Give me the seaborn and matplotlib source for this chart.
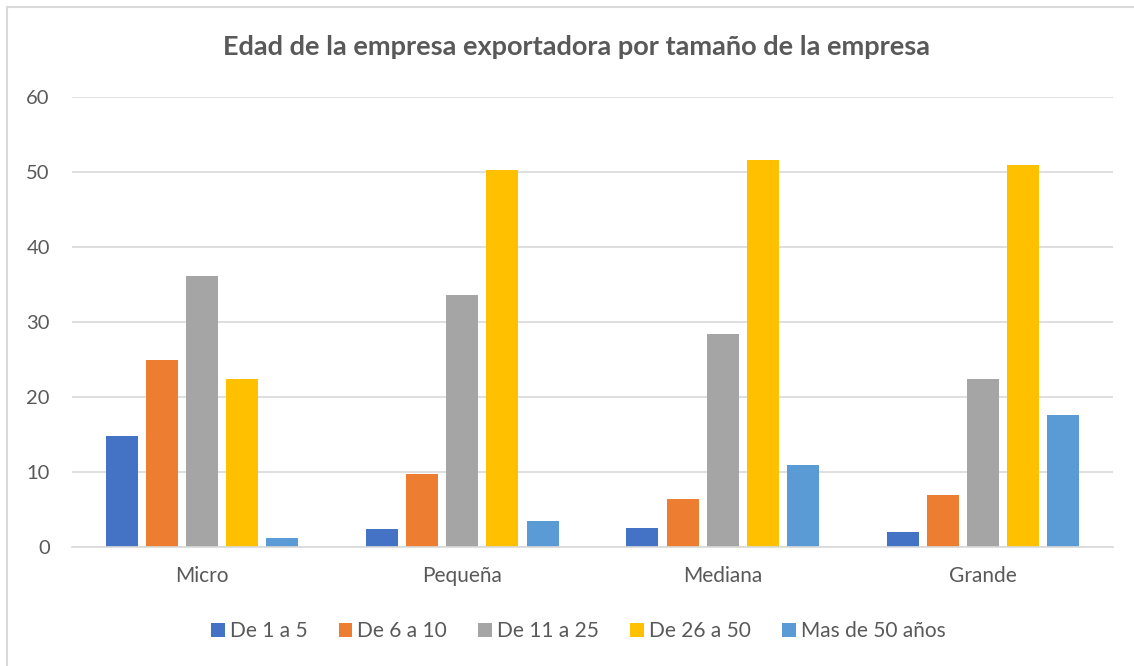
"""
Edad de la empresa exportadora por tamaño de la empresa - grouped bar chart
"""

import numpy as np
import pandas as pd
import matplotlib
matplotlib.use("Agg")
import matplotlib.pyplot as plt
from matplotlib.lines import Line2D
import seaborn as sns

# Data
tamanos = ["Micro", "Pequeña", "Mediana", "Grande"]
edades = ["De 1 a 5", "De 6 a 10", "De 11 a 25", "De 26 a 50", "Mas de 50 años"]

de_1_a_5 = [14.8, 2.4, 2.6, 2.0]
de_6_a_10 = [25.0, 9.8, 6.4, 6.9]
de_11_a_25 = [36.2, 33.6, 28.4, 22.4]
de_26_a_50 = [22.4, 50.3, 51.6, 50.9]
mas_de_50 = [1.2, 3.5, 10.9, 17.6]

colores = ["#4472C4", "#ED7D31", "#A5A5A5", "#FFC000", "#5B9BD5"]

sns.set_theme(style="white")
plt.rcParams["font.family"] = ["Lato", "DejaVu Sans"]

texto = "#595959"
rejilla = "#D9D9D9"

# Build long table
series = [de_1_a_5, de_6_a_10, de_11_a_25, de_26_a_50, mas_de_50]
rows = []
for edad, valores in zip(edades, series):
    for tam, v in zip(tamanos, valores):
        rows.append({"tamano": tam, "edad": edad, "valor": v})
df = pd.DataFrame(rows)

W, H = 1134, 666
fig = plt.figure(figsize=(W / 100, H / 100), dpi=100)
ax = fig.add_axes([72 / W, 1 - 547 / H, (1113 - 72) / W, (547 - 97) / H])

sns.barplot(
    data=df, x="tamano", y="valor", hue="edad",
    order=tamanos, hue_order=edades, palette=colores,
    width=0.77, gap=0.2, saturation=1, linewidth=0, ax=ax,
)

ax.set_ylim(0, 60)
ax.set_yticks(np.arange(0, 61, 10))
ax.set_xlim(-0.5, 3.5)
ax.yaxis.grid(True, color=rejilla, linewidth=1.2)
ax.set_axisbelow(True)
for side in ["top", "right", "left"]:
    ax.spines[side].set_visible(False)
ax.spines["bottom"].set_color(rejilla)
ax.spines["bottom"].set_linewidth(1.2)
ax.tick_params(axis="both", length=0, colors=texto)
ax.tick_params(axis="y", labelsize=14.5, pad=16)
ax.tick_params(axis="x", labelsize=15, pad=14)
ax.set_xlabel("")
ax.set_ylabel("")

fig.text(0.508, 1 - 47 / H, "Edad de la empresa exportadora por tamaño de la empresa",
         ha="center", va="center", fontsize=19.5, fontweight="bold", color=texto)

handles, labels = ax.get_legend_handles_labels()
ax.legend(handles, labels, loc="center", bbox_to_anchor=(0.51, 1 - 631 / H),
          bbox_transform=fig.transFigure, ncol=5, frameon=False,
          fontsize=15, labelcolor=texto, handlelength=0.65, handleheight=0.65,
          handletextpad=0.25, columnspacing=1.5)

# outer chart border (top and left edges visible)
fig.lines.append(Line2D([7 / W, 7 / W], [0, 1 - 7 / H], transform=fig.transFigure,
                        color=rejilla, linewidth=1.5))
fig.lines.append(Line2D([7 / W, 1], [1 - 7 / H, 1 - 7 / H], transform=fig.transFigure,
                        color=rejilla, linewidth=1.5))

fig.savefig("out.png", dpi=100)
